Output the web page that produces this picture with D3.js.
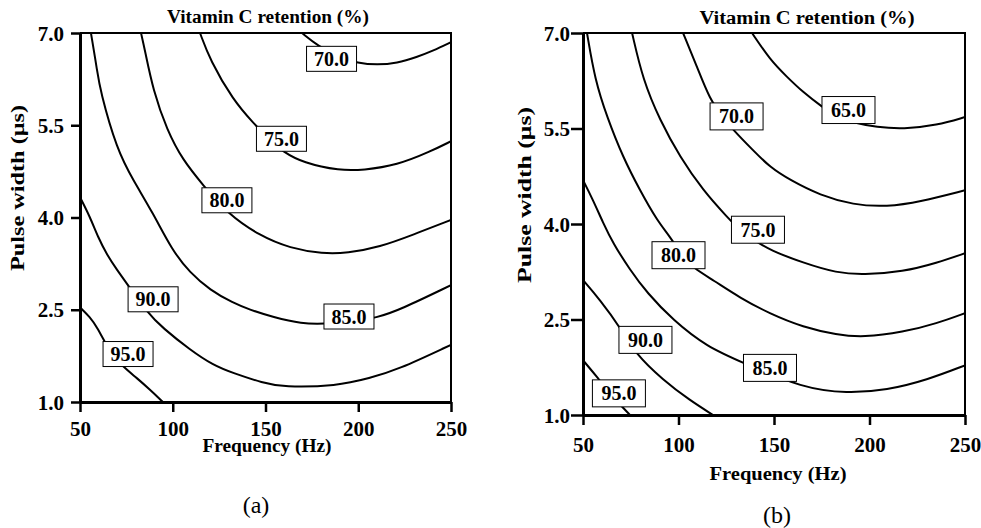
<!DOCTYPE html>
<html>
<head>
<meta charset="utf-8">
<script src="https://cdn.jsdelivr.net/npm/d3@7"></script>
<style>
  body { margin: 0; background: #fff; }
  svg { display: block; font-family: "Liberation Serif", "Times New Roman", serif; }
  .axis text { font-family: "Liberation Serif", "Times New Roman", serif; font-size: 21px; font-weight: bold; fill: #000; }
  .axis-title { font-size: 18px; font-weight: bold; }
  .cap { font-size: 24px; }
  .clabel text { font-size: 20px; font-weight: bold; }
</style>
</head>
<body>
<svg width="981" height="528"></svg>
<script>
// axis ticks
const freqTicks = [50, 100, 150, 200, 250];
const pulseTicks = [1.0, 2.5, 4.0, 5.5, 7.0];

// panel (a) contour lines, [frequency (Hz), pulse width (us)]
const a70 = [[169.7, 7.0], [178.3, 6.79], [189.1, 6.61], [199.9, 6.51], [210.1, 6.48], [220.9, 6.51], [231.7, 6.61], [240.3, 6.71], [250, 6.85]];
const a75 = [[114.7, 7.0], [120.1, 6.56], [132.5, 5.91], [143.3, 5.54], [152.4, 5.26], [159.4, 5.07], [170.2, 4.89], [190.2, 4.76], [202.6, 4.77], [220.9, 4.85], [238.7, 5.07], [250, 5.24]];
const a80 = [[82.9, 7.0], [85.0, 6.72], [89.4, 6.07], [96.9, 5.42], [105.5, 4.93], [116.3, 4.53], [129.2, 4.07], [147.0, 3.70], [163.2, 3.50], [181.0, 3.41], [193.9, 3.42], [211.7, 3.52], [229.5, 3.72], [250, 3.96]];
const a85 = [[55.9, 7.0], [59.2, 6.40], [60.8, 6.07], [69.9, 5.10], [78.6, 4.61], [89.4, 4.07], [99.6, 3.47], [109.3, 3.10], [120.1, 2.82], [132.5, 2.61], [141.6, 2.50], [154.0, 2.38], [169.7, 2.27], [181.5, 2.27], [195.6, 2.30], [210.1, 2.37], [222.5, 2.50], [250, 2.90]];
const a90 = [[50, 4.33], [55.4, 4.01], [59.7, 3.68], [64.6, 3.39], [69.9, 3.15], [75.9, 2.90], [86.1, 2.46], [94.7, 2.20], [109.3, 1.85], [121.7, 1.60], [132.5, 1.47], [148.7, 1.31], [159.4, 1.24], [188.5, 1.26], [206.3, 1.39], [220.9, 1.52], [250, 1.93]];
const a95 = [[50, 2.54], [55.4, 2.38], [59.2, 2.22], [66.2, 1.81], [73.2, 1.57], [80.7, 1.39], [87.7, 1.20], [94.7, 1.0]];
// [level, frequency, pulse width] of label boxes
const labelsA = [[70, 185.6, 6.58], [75, 158.6, 5.28], [80, 129.2, 4.28], [85, 195.0, 2.39], [90, 89.4, 2.67], [95, 75.9, 1.78]];

// panel (b) contour lines
const b65 = [[138.5, 7.0], [147.9, 6.58], [156.8, 6.31], [165.2, 6.07], [175.1, 5.84], [183.5, 5.68], [191.4, 5.59], [203.9, 5.52], [217.6, 5.49], [235.4, 5.55], [250, 5.68]];
const b70 = [[102.4, 7.0], [109.7, 6.47], [116.5, 5.95], [122.8, 5.70], [128.5, 5.48], [139.0, 5.16], [147.9, 4.89], [158.4, 4.69], [174.1, 4.45], [191.4, 4.30], [209.2, 4.27], [226.5, 4.35], [250, 4.53]];
const b75 = [[75.7, 7.0], [81.4, 6.26], [90.3, 5.63], [100.8, 5.05], [112.8, 4.53], [125.4, 4.11], [133.3, 3.87], [141.1, 3.72], [147.9, 3.59], [165.2, 3.39], [183.0, 3.23], [196.6, 3.20], [217.6, 3.25], [235.4, 3.39], [250, 3.54]];
const b80 = [[52.1, 7.0], [56.3, 6.26], [62.6, 5.68], [70.9, 5.05], [79.8, 4.53], [88.7, 4.06], [95.6, 3.80], [101.8, 3.51], [107.6, 3.31], [118.1, 3.12], [132.2, 2.84], [147.9, 2.59], [165.2, 2.38], [183.0, 2.26], [196.6, 2.22], [217.6, 2.30], [235.4, 2.44], [250, 2.60]];
const b85 = [[50, 4.69], [55.2, 4.38], [60.5, 4.02], [65.7, 3.70], [74.6, 3.28], [83.5, 2.92], [97.1, 2.49], [114.9, 2.07], [133.8, 1.82], [165.2, 1.42], [188.2, 1.34], [209.2, 1.39], [230.1, 1.55], [250, 1.78]];
const b90 = [[50, 3.12], [58.9, 2.81], [69.4, 2.38], [77.2, 1.97], [91.9, 1.55], [106.0, 1.23], [118.1, 1.0]];
const b95 = [[50, 1.86], [57.3, 1.60], [65.7, 1.28], [74.6, 1.0]];
const labelsB = [[65, 189.0, 5.79], [70, 130.4, 5.69], [75, 141.6, 3.91], [80, 100.0, 3.51], [85, 147.9, 1.74], [90, 82.7, 2.18], [95, 68.8, 1.34]];

const svg = d3.select('svg');

function drawPanel(p) {
    const x = d3.scaleLinear().domain([50, 250]).range([p.left, p.right]);
    const y = d3.scaleLinear().domain([1, 7]).range([p.bottom, p.top]);
    const g = svg.append('g');

    svg.append('clipPath').attr('id', 'clip-' + p.name)
        .append('rect')
        .attr('x', p.left).attr('y', p.top)
        .attr('width', p.right - p.left).attr('height', p.bottom - p.top);

    // contour lines
    const line = d3.line()
        .x(d => x(d[0]))
        .y(d => y(d[1]))
        .curve(d3.curveBasis);

    g.append('g')
        .attr('clip-path', `url(#clip-${p.name})`)
        .selectAll('path')
        .data(p.contours)
        .join('path')
        .attr('d', line)
        .attr('fill', 'none')
        .attr('stroke', '#000')
        .attr('stroke-width', 2);

    // top / right frame
    g.append('path')
        .attr('d', `M${p.left},${p.top}H${p.right}V${p.bottom}`)
        .attr('fill', 'none')
        .attr('stroke', '#000')
        .attr('stroke-width', 2);

    // axes
    const xAxis = g.append('g')
        .attr('class', 'axis')
        .attr('transform', `translate(0, ${p.bottom})`)
        .call(d3.axisBottom(x).tickValues(freqTicks).tickSize(p.tickX).tickSizeOuter(0).tickFormat(d3.format('d')));
    xAxis.selectAll('text').attr('y', p.xLabelY).attr('dy', null);

    const yAxis = g.append('g')
        .attr('class', 'axis')
        .attr('transform', `translate(${p.left}, 0)`)
        .call(d3.axisLeft(y).tickValues(pulseTicks).tickSize(p.tickY).tickSizeOuter(0).tickPadding(p.padY).tickFormat(d3.format('.1f')));
    yAxis.selectAll('text').attr('dy', '0.34em');

    // drop d3's default sans-serif so the serif face is used
    g.selectAll('.axis').attr('font-family', null).attr('font-size', null);
    g.selectAll('.axis .domain').attr('stroke-width', 3);
    g.selectAll('.axis .tick line').attr('stroke-width', 2.5);

    // contour labels
    const labels = g.selectAll('.clabel')
        .data(p.labels)
        .join('g')
        .attr('class', 'clabel')
        .attr('transform', d => `translate(${x(d[1])}, ${y(d[2])})`);

    labels.append('rect')
        .attr('x', -p.boxW / 2).attr('y', -p.boxH / 2)
        .attr('width', p.boxW).attr('height', p.boxH)
        .attr('fill', '#fff')
        .attr('stroke', '#000')
        .attr('stroke-width', 1);

    labels.append('text')
        .attr('text-anchor', 'middle')
        .attr('dy', '0.35em')
        .text(d => d3.format('.1f')(d[0]));

    // titles
    g.append('text')
        .attr('class', 'axis-title')
        .attr('text-anchor', 'middle')
        .attr('x', p.titleX).attr('y', p.titleY)
        .attr('textLength', p.titleLen).attr('lengthAdjust', 'spacingAndGlyphs')
        .text('Vitamin C retention (%)');

    g.append('text')
        .attr('class', 'axis-title')
        .attr('text-anchor', 'middle')
        .attr('x', p.xTitleX).attr('y', p.xTitleY)
        .attr('textLength', p.xTitleLen).attr('lengthAdjust', 'spacingAndGlyphs')
        .text('Frequency (Hz)');

    g.append('text')
        .attr('class', 'axis-title')
        .attr('text-anchor', 'middle')
        .attr('transform', `translate(${p.yTitleX}, ${p.yTitleY}) rotate(-90)`)
        .attr('textLength', p.yTitleLen).attr('lengthAdjust', 'spacingAndGlyphs')
        .text('Pulse width (\u03bcs)');

    g.append('text')
        .attr('class', 'cap')
        .attr('text-anchor', 'middle')
        .attr('x', p.capX).attr('y', p.capY)
        .text(p.caption);
}

drawPanel({
    name: 'a', caption: '(a)',
    left: 80, right: 451, top: 33, bottom: 402,
    tickX: 10, tickY: 9, padY: 7, xLabelY: 34,
    boxW: 50, boxH: 25,
    contours: [a70, a75, a80, a85, a90, a95],
    labels: labelsA,
    titleX: 268, titleY: 23, titleLen: 202,
    xTitleX: 267, xTitleY: 452, xTitleLen: 129,
    yTitleX: 24, yTitleY: 188, yTitleLen: 166,
    capX: 256, capY: 513
});

drawPanel({
    name: 'b', caption: '(b)',
    left: 583, right: 965, top: 33, bottom: 415,
    tickX: 10, tickY: 12, padY: 1, xLabelY: 37,
    boxW: 53, boxH: 27,
    contours: [b65, b70, b75, b80, b85, b90, b95],
    labels: labelsB,
    titleX: 807, titleY: 24, titleLen: 215,
    xTitleX: 778, xTitleY: 480, xTitleLen: 137,
    yTitleX: 531, yTitleY: 195, yTitleLen: 176,
    capX: 777, capY: 523
});
</script>
</body>
</html>
